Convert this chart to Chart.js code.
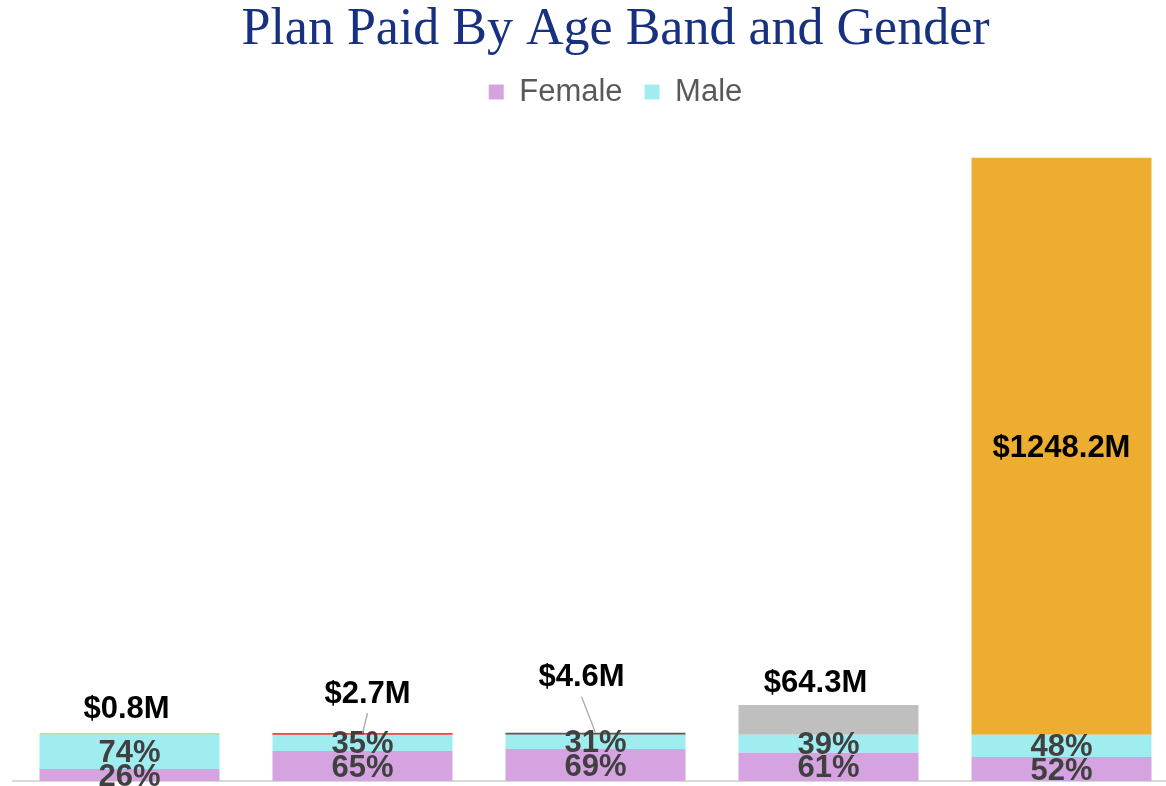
<!DOCTYPE html>
<html>
<head>
<meta charset="utf-8">
<script src="https://cdn.jsdelivr.net/npm/chart.js@4"></script>
<style>
  html, body { margin: 0; padding: 0; background: #fff; overflow: hidden; }
</style>
</head>
<body>
<canvas id="myChart" width="1218" height="786"></canvas>
<script>
// data
const ageBands = ['Band 1', 'Band 2', 'Band 3', 'Band 4', 'Band 5'];
const femalePct = [26, 65, 69, 61, 52];
const malePct = [74, 35, 31, 39, 48];
const planPaidM = [0.8, 2.7, 4.6, 64.3, 1248.2];

// styles
const totalColors = ['#A9D18E', '#FF0000', '#595959', '#BFBFBF', '#EDAD30'];
// label offset from bar center / bar top, null = inside bar
const totalLabelOffsets = [[-3, -26], [5, -41], [-14, -57], [-13, -24], null];
const leaderLines = [false, true, true, false, false];

const barLabels = {
    id: 'barLabels',
    afterDatasetsDraw(chart) {
        const c = chart.ctx;
        c.save();
        c.textAlign = 'center';
        c.textBaseline = 'middle';
        c.font = 'bold 31px "Liberation Sans", Arial, sans-serif';

        // percentages
        [1, 0].forEach(function (di) {
            const meta = chart.getDatasetMeta(di);
            meta.data.forEach(function (bar, i) {
                const v = chart.data.datasets[di].data[i];
                c.fillStyle = '#404040';
                c.fillText(v + '%', bar.x, (bar.y + bar.base) / 2 + 2);
            });
        });

        // totals
        const meta = chart.getDatasetMeta(2);
        meta.data.forEach(function (bar, i) {
            const text = '$' + planPaidM[i].toFixed(1) + 'M';
            const off = totalLabelOffsets[i];
            let x, y;
            if (off) {
                x = bar.x + off[0];
                y = bar.y + off[1];
            } else {
                x = bar.x;
                y = (bar.y + bar.base) / 2;
            }
            if (leaderLines[i]) {
                c.strokeStyle = '#A6A6A6';
                c.lineWidth = 1.3;
                c.beginPath();
                c.moveTo(x, y + 21);
                c.lineTo(bar.x, bar.y);
                c.stroke();
            }
            c.fillStyle = '#000';
            c.fillText(text, x, y + 2);
        });
        c.restore();
    }
};

const ctx = document.getElementById('myChart').getContext('2d');
const chart = new Chart(ctx, {
    type: 'bar',
    data: {
        labels: ageBands,
        datasets: [{
            label: 'Female',
            data: femalePct,
            backgroundColor: '#D5A3E0'
        }, {
            label: 'Male',
            data: malePct,
            backgroundColor: '#A0EDF0'
        }, {
            label: 'Plan Paid',
            data: planPaidM,
            backgroundColor: totalColors,
            minBarLength: 1.5
        }]
    },
    options: {
        responsive: false,
        animation: false,
        layout: {
            padding: { left: 13, right: 0, top: 0, bottom: 5 }
        },
        datasets: {
            bar: {
                barPercentage: 0.7725,
                categoryPercentage: 1,
                borderWidth: 0
            }
        },
        scales: {
            x: {
                stacked: true,
                ticks: { display: false },
                grid: { display: false },
                border: { color: '#D9D9D9', width: 2 },
                afterFit: function (scale) { scale.height = 0; }
            },
            y: {
                stacked: true,
                position: 'right',
                min: 0,
                max: 1435,
                ticks: { display: false },
                grid: { display: false },
                border: { display: false },
                afterFit: function (scale) { scale.width = 40; }
            }
        },
        plugins: {
            title: {
                display: true,
                text: 'Plan Paid By Age Band and Gender',
                color: '#17307F',
                font: { family: '"Liberation Serif", "DejaVu Serif", serif', size: 52, weight: 'normal', lineHeight: 0.933 },
                padding: { top: 6, bottom: 0 }
            },
            legend: {
                display: true,
                position: 'top',
                labels: {
                    filter: function (item) { return item.datasetIndex < 2; },
                    boxWidth: 15,
                    boxHeight: 15,
                    padding: 22,
                    color: '#595959',
                    font: { family: '"Liberation Sans", Arial, sans-serif', size: 31 }
                }
            },
            tooltip: { enabled: false }
        }
    },
    plugins: [barLabels]
});
</script>
</body>
</html>
